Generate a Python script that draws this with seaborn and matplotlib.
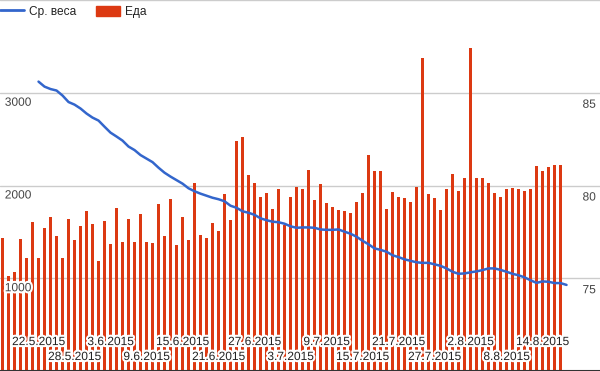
import pandas as pd
import matplotlib.pyplot as plt
import matplotlib.patheffects as pe
from matplotlib.lines import Line2D
from matplotlib.patches import Patch
import seaborn as sns

# food per day, from 16.5.2015 to 17.8.2015
food = [1433, 1025, 1068, 1422, 1218, 1605, 1218, 1540, 1659, 1455,
        1218, 1637, 1411, 1562, 1723, 1583, 1186, 1616, 1369, 1755,
        1390, 1637, 1390, 1691, 1390, 1379, 1798, 1455, 1852, 1358,
        1659, 1411, 2024, 1462, 1433, 1591, 1505, 1903, 1623, 2483,
        2526, 2118, 2032, 1881, 1914, 1742, 1957, 1570, 1881, 1989,
        1957, 2172, 1849, 2021, 1806, 1763, 1731, 1720, 1699, 1817,
        1924, 2333, 2161, 2161, 1752, 1935, 1881, 1870, 1817, 1989,
        3376, 1903, 1870, 1731, 1967, 2129, 1946, 2086, 3483, 2086,
        2086, 2032, 1924, 1881, 1967, 1978, 1967, 1946, 1967, 2215,
        2161, 2204, 2225, 2225]

# average weight, from 22.5.2015 to 18.8.2015
weight = [85.60, 85.33, 85.20, 85.12, 84.85, 84.50, 84.36, 84.15, 83.88, 83.66,
          83.50, 83.17, 82.85, 82.64, 82.42, 82.10, 81.91, 81.64, 81.45, 81.26,
          80.96, 80.69, 80.48, 80.29, 80.10, 79.85, 79.69, 79.56, 79.45, 79.34,
          79.26, 79.15, 78.91, 78.80, 78.61, 78.53, 78.42, 78.23, 78.13, 78.05,
          78.02, 77.94, 77.80, 77.72, 77.74, 77.74, 77.72, 77.63, 77.61, 77.61,
          77.63, 77.51, 77.40, 77.24, 77.02, 76.83, 76.61, 76.53, 76.43, 76.24,
          76.14, 76.02, 75.94, 75.86, 75.83, 75.83, 75.75, 75.67, 75.53, 75.35,
          75.24, 75.26, 75.32, 75.37, 75.44, 75.53, 75.53, 75.45, 75.35, 75.24,
          75.16, 75.05, 74.89, 74.75, 74.83, 74.81, 74.74, 74.74, 74.64]

start = pd.Timestamp("2015-05-16")
food_dates = pd.date_range(start, periods=len(food))
weight_dates = pd.date_range("2015-05-22", periods=len(weight))

left_ticks = [1000, 2000, 3000]
right_ticks = [75, 80, 85]
date_ticks = ["22.5.2015", "28.5.2015", "3.6.2015", "9.6.2015", "15.6.2015",
              "21.6.2015", "27.6.2015", "3.7.2015", "9.7.2015", "15.7.2015",
              "21.7.2015", "27.7.2015", "2.8.2015", "8.8.2015", "14.8.2015"]

df_food = pd.DataFrame({"day": (food_dates - start).days, "food": food})
df_weight = pd.DataFrame({"day": (weight_dates - start).days, "weight": weight})

sns.set_theme(style="white")
plt.rcParams["font.family"] = ["Liberation Sans", "DejaVu Sans"]

red = "#dc3912"
blue = "#3366cc"
halo = [pe.withStroke(linewidth=3, foreground="white")]

fig = plt.figure(figsize=(6, 3.71), dpi=100)
ax = fig.add_axes([0, 0, 1, 1])

sns.barplot(data=df_food, x="day", y="food", native_scale=True, color=red,
            saturation=1, width=0.58, errorbar=None, linewidth=0, ax=ax, zorder=2)
ax.set_ylim(0, 4000)
ax.set_xlim(-0.42, 99.58)
ax.set_yticks(left_ticks + [4000])
ax.yaxis.grid(True, color="#cccccc", lw=1, zorder=0)
ax.set_axisbelow(True)
ax.tick_params(left=False, bottom=False, labelleft=False, labelbottom=False)
ax.set_xlabel("")
ax.set_ylabel("")
for s in ax.spines.values():
    s.set_visible(False)
ax.axhline(0, color="#333333", lw=1.5, zorder=3)

for v in left_ticks:
    ax.annotate(str(v), xy=(0.008, v), xycoords=("axes fraction", "data"),
                xytext=(0, -4), textcoords="offset pixels", va="top", ha="left",
                fontsize=8.6, color="#444444", path_effects=halo, zorder=4)

for i, lab in enumerate(date_ticks):
    d = (pd.to_datetime(lab, format="%d.%m.%Y") - start).days
    yrow = 0.078 if i % 2 == 0 else 0.0377
    ax.text(d, yrow, lab, transform=ax.get_xaxis_transform(), ha="center",
            va="center", fontsize=8.6, color="#222222", path_effects=halo, zorder=4)

ax2 = ax.twinx()
sns.lineplot(data=df_weight, x="day", y="weight", color=blue, lw=1.8, ax=ax2)
ax2.set_ylim(70, 90)
ax2.set_xlim(-0.42, 99.58)
ax2.tick_params(right=False, labelright=False)
ax2.set_ylabel("")
for s in ax2.spines.values():
    s.set_visible(False)

for v in right_ticks:
    ax2.annotate(str(v), xy=(0.993, v), xycoords=("axes fraction", "data"),
                 xytext=(0, -6), textcoords="offset pixels", va="top", ha="right",
                 fontsize=8.6, color="#444444", path_effects=halo)

handles = [Line2D([], [], color=blue, lw=2), Patch(facecolor=red, edgecolor=red)]
ax2.legend(handles, ["Ср. веса", "Еда"], loc="upper left", bbox_to_anchor=(0, 0.984),
           ncol=2, frameon=False, fontsize=8.6, borderpad=0, borderaxespad=0,
           handlelength=2.0, handleheight=0.85, handletextpad=0.42,
           columnspacing=1.67, labelcolor="#222222")

fig.savefig("out.png", dpi=100)
